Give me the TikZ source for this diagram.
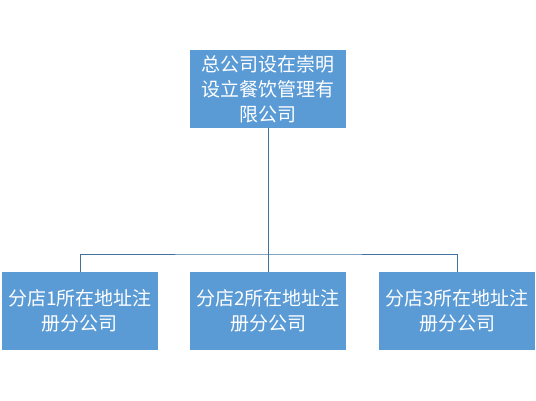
\documentclass[tikz,border=0pt]{standalone}
\usepackage{fontspec}
\newfontfamily\cjk{Noto Sans CJK SC}
\definecolor{boxfill}{HTML}{5B9BD5}
\definecolor{boxline}{HTML}{5B9BD5}
\definecolor{conn}{HTML}{41719C}
\begin{document}
\begin{tikzpicture}[x=1pt,y=-1pt,
  orgbox/.style={draw=boxline,fill=boxfill,minimum width=155pt,minimum height=77pt,
    text width=152pt,align=center,inner sep=0pt,text=white,
    font=\cjk\fontsize{19}{25}\selectfont},
  link/.style={draw=conn,line width=0.9pt}]
\useasboundingbox (0,0) rectangle (536,400);
\node[orgbox] (top) at (268,89) {总公司设在崇明\\设立餐饮管理有\\限公司};
\node[orgbox] (b1) at (80,311) {分店1所在地址注\\册分公司};
\node[orgbox] (b2) at (268,311) {分店2所在地址注\\册分公司};
\node[orgbox] (b3) at (457,311) {分店3所在地址注\\册分公司};
\coordinate (bar) at (268,254);
\draw[link] (top.south) -- (b2.north);
\draw[link] (b1.north) |- (bar) -| (b3.north);
\end{tikzpicture}
\end{document}
